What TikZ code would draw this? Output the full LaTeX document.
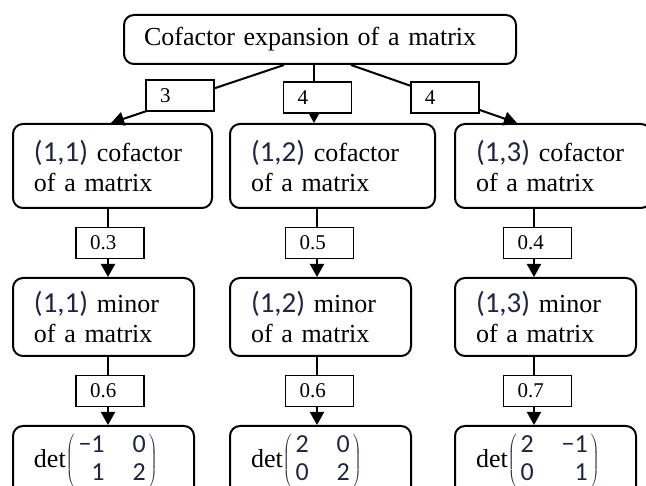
\documentclass[tikz,border=0pt]{standalone}
\usepackage{fontspec}
\setmainfont{Liberation Serif}
\newfontfamily\chiffres{Carlito}
\usepackage{xcolor}
\usepackage{tikz}
\usetikzlibrary{positioning,arrows.meta}
\definecolor{encre}{RGB}{35,35,70}
\newcommand{\indice}[1]{{\chiffres\fontsize{29}{30}\selectfont\color{encre}(#1)}}
\newcommand{\detmat}[4]{det$\color{encre}\left(\mbox{\chiffres\fontsize{26}{28}\selectfont
  \begin{tabular}{@{\hspace{4pt}}r@{\hspace{28pt}}r@{\hspace{3pt}}}#1&#2\\#3&#4\end{tabular}}\right)$}

\begin{document}
\begin{tikzpicture}[
  x=1pt, y=-1pt,
  node distance = 68pt,
  boite/.style  = {draw, rounded corners=10pt, line width=2pt, align=left,
                   inner xsep=21pt, font=\fontsize{26}{30}\selectfont},
  titre/.style  = {boite, inner xsep=20pt, text width=352pt, minimum height=49pt},
  poids/.style  = {draw, fill=white, line width=1.8pt, align=left, text width=40pt,
                   inner xsep=14pt, inner ysep=0pt, minimum height=31pt,
                   font=\fontsize{21}{24}\selectfont},
  fleche/.style = {-{Triangle[width=14pt,length=13pt]}, line width=2pt}
]
\useasboundingbox (0,0) rectangle (646,486);
\node[titre, anchor=north west] (t) at (123,14) {Cofactor expansion of a matrix};
\node[boite, text width=157pt, minimum height=84pt, anchor=north west] (c1) at (12,123)
  {\indice{1,1} cofactor\\of a matrix};
\node[boite, text width=163pt, minimum height=84pt, right=16pt of c1] (c2)
  {\indice{1,2} cofactor\\of a matrix};
\node[boite, text width=154pt, minimum height=84pt, right=18pt of c2] (c3)
  {\indice{1,3} cofactor\\of a matrix};
\node[boite, text width=139pt, minimum height=78pt, below=of c1.south west, anchor=north west] (m1)
  {\indice{1,1} minor\\of a matrix};
\node[boite, text width=139pt, minimum height=78pt, below=of c2.south west, anchor=north west] (m2)
  {\indice{1,2} minor\\of a matrix};
\node[boite, text width=139pt, minimum height=78pt, below=of c3.south west, anchor=north west] (m3)
  {\indice{1,3} minor\\of a matrix};
\node[boite, text width=139pt, minimum height=70pt, below=of m1.south west, anchor=north west] (d1)
  {\detmat{−1}{0}{1}{2}};
\node[boite, text width=139pt, minimum height=70pt, below=of m2.south west, anchor=north west] (d2)
  {\detmat{2}{0}{0}{2}};
\node[boite, text width=139pt, minimum height=70pt, below=of m3.south west, anchor=north west] (d3)
  {\detmat{2}{−1}{0}{1}};
\draw[fleche] ([xshift=-36pt]t.south) -- node[poids, pos=0.6, yshift=4pt] {3} ([xshift=-1.5pt]c1.north);
\draw[fleche] ([xshift=-6pt]t.south) -- node[poids, pos=0.56, xshift=3.5pt] {4} ([xshift=-6pt]t.south |- c2.north);
\draw[fleche] ([xshift=31pt]t.south) -- node[poids, pos=0.565] {4} ([xshift=-36pt]c3.north);
\draw[fleche] ([xshift=-4.5pt]c1.south) -- node[poids, xshift=2pt] {0.3} ([xshift=-4.5pt]c1.south |- m1.north);
\draw[fleche] ([xshift=-15.5pt]c2.south) -- node[poids, xshift=2.5pt] {0.5} ([xshift=-15.5pt]c2.south |- m2.north);
\draw[fleche] ([xshift=-19pt]c3.south) -- node[poids, xshift=3.5pt] {0.4} ([xshift=-19pt]c3.south |- m3.north);
\draw[fleche] ([xshift=4.5pt]m1.south) -- node[poids, xshift=2pt] {0.6} ([xshift=4.5pt]m1.south |- d1.north);
\draw[fleche] ([xshift=-3.5pt]m2.south) -- node[poids, xshift=2.5pt] {0.6} ([xshift=-3.5pt]m2.south |- d2.north);
\draw[fleche] ([xshift=-11.5pt]m3.south) -- node[poids, xshift=3.5pt] {0.7} ([xshift=-11.5pt]m3.south |- d3.north);
\end{tikzpicture}
\end{document}
